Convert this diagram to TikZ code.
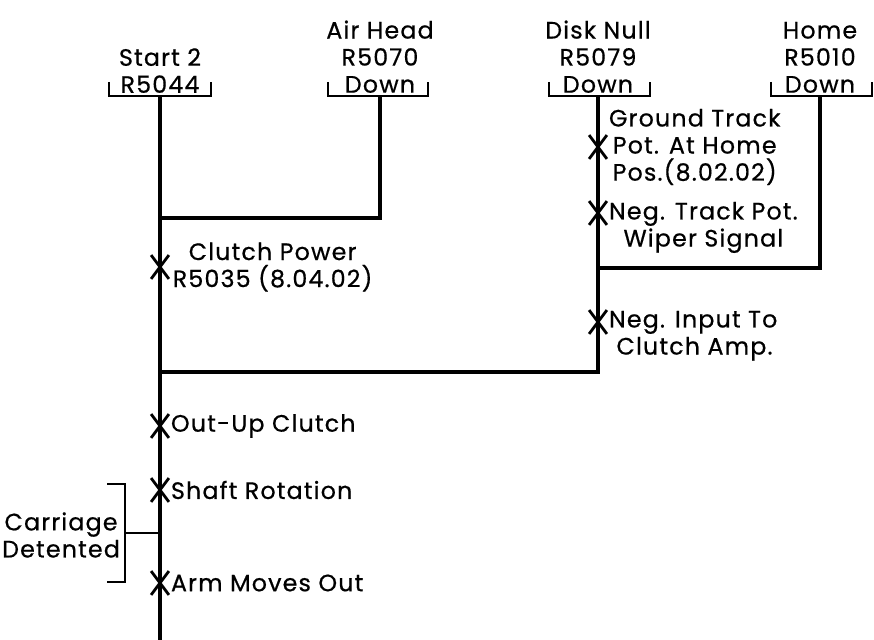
\documentclass[tikz,border=0pt]{standalone}
\usepackage{fontspec}
\setmainfont{Poppins}[LetterSpace=5,FakeBold=0.6]
\usetikzlibrary{positioning,shapes.misc}

\tikzset{
  lbl/.style={font=\fontsize{13.5}{15.4}\selectfont,inner sep=1pt,align=center},
  bus/.style={line width=2pt},
  brk/.style={line width=1.4pt},
  xmark/.style={cross out,draw,line width=1.6pt,inner sep=0pt,
    minimum width=0.3cm,minimum height=0.42cm}
}

\begin{document}
\begin{tikzpicture}
  \useasboundingbox (0,0) rectangle (17.48,12.8);
  % headers
  \node[lbl,anchor=south] (hs) at (3.2,10.9)   {Start 2\\R5044};
  \node[lbl,anchor=south] (ha) at (7.6,10.9)   {Air Head\\R5070\\Down};
  \node[lbl,anchor=south] (hd) at (11.96,10.9) {Disk Null\\R5079\\Down};
  \node[lbl,anchor=south] (hh) at (16.4,10.9)  {Home\\R5010\\Down};
  \draw[brk] (2.18,11.16) |- (4.22,10.88) -- (4.22,11.16);
  \draw[brk] (6.56,11.16) |- (8.56,10.88) -- (8.56,11.16);
  \draw[brk] (10.98,11.16) |- (13.0,10.88) -- (13.0,11.16);
  \draw[brk] (15.42,11.16) |- (17.44,10.88) -- (17.44,11.16);
  \coordinate (s0) at (3.2,10.88);
  \coordinate (a0) at (7.6,10.88);
  \coordinate (d0) at (11.96,10.88);
  \coordinate (h0) at (16.4,10.88);
  \coordinate (ja) at (3.2,8.44);
  \coordinate (jd) at (3.2,5.36);
  \coordinate (jh) at (11.96,7.44);
  \coordinate (se) at (3.2,0);
  % lines
  \draw[bus] (s0) -- (se);
  \draw[bus] (a0) |- (ja);
  \draw[bus] (d0) |- (jd);
  \draw[bus] (h0) |- (jh);
  % marks
  \node[xmark] (gt)  at (11.96,9.86) {};
  \node[xmark] (ntp) at (11.96,8.54) {};
  \node[xmark] (nit) at (11.96,6.36) {};
  \node[xmark] (cp)  at (3.2,7.46)   {};
  \node[xmark] (ou)  at (3.2,4.28)   {};
  \node[xmark] (sr)  at (3.2,3.0)    {};
  \node[xmark] (amo) at (3.2,1.14)   {};
  \node[lbl,right=0pt of gt] {Ground Track\\Pot. At Home\\Pos.(8.02.02)};
  \node[lbl,anchor=north west] at ([xshift=0pt,yshift=7.5pt]ntp.east)
    {Neg. Track Pot.\\Wiper Signal};
  \node[lbl,anchor=north west,align=left] at ([xshift=0pt,yshift=7.5pt]nit.east)
    {Neg. Input To\\\ Clutch Amp.};
  \node[lbl,right=1pt of cp] {Clutch Power\\R5035 (8.04.02)};
  \node[lbl,right=0pt of ou]  {Out-Up Clutch};
  \node[lbl,right=0pt of sr]  {Shaft Rotation};
  \node[lbl,right=0pt of amo] {Arm Moves Out};
  % carriage bracket
  \coordinate (cj) at (3.2,2.14);
  \draw[brk] (2.14,3.12) -| (2.5,1.16) -- (2.14,1.16);
  \draw[brk] (2.5,2.14) -- (cj);
  \node[lbl,anchor=east] (cd) at (2.44,2.1) {Carriage\\Detented};
\end{tikzpicture}
\end{document}
